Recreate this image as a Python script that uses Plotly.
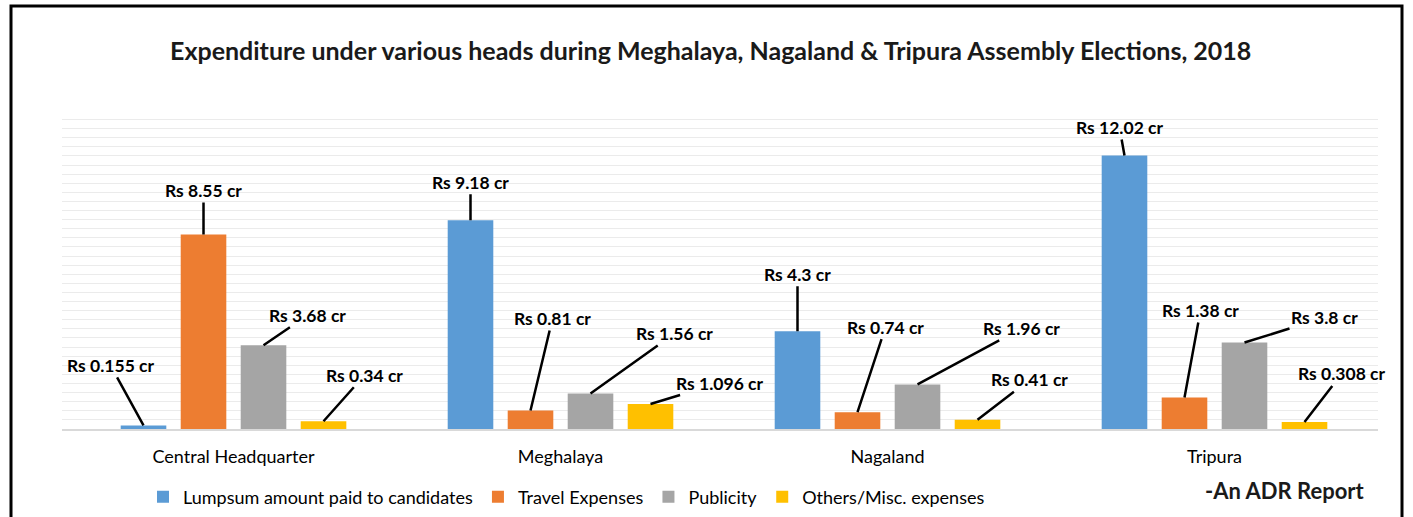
import plotly.graph_objects as go

categories = ["Central Headquarter", "Meghalaya", "Nagaland", "Tripura"]
series_names = ["Lumpsum amount paid to candidates", "Travel Expenses", "Publicity", "Others/Misc. expenses"]
lumpsum = [0.155, 9.18, 4.3, 12.02]
travel = [8.55, 0.81, 0.74, 1.38]
publicity = [3.68, 1.56, 1.96, 3.8]
others = [0.34, 1.096, 0.41, 0.308]
label_texts = [
    ["Rs 0.155 cr", "Rs 9.18 cr", "Rs 4.3 cr", "Rs 12.02 cr"],
    ["Rs 8.55 cr", "Rs 0.81 cr", "Rs 0.74 cr", "Rs 1.38 cr"],
    ["Rs 3.68 cr", "Rs 1.56 cr", "Rs 1.96 cr", "Rs 3.8 cr"],
    ["Rs 0.34 cr", "Rs 1.096 cr", "Rs 0.41 cr", "Rs 0.308 cr"],
]

# label offsets (pixels) from bar top: [series][category] -> (ax, ay)
label_offsets = [
    [(-33, -60), (0, -38), (0, -57), (-5, -28)],
    [(0, -44), (22, -92), (28, -85), (16, -87)],
    [(44, -30), (84, -60), (104, -56), (80, -25)],
    [(41, -46), (69, -21), (52, -40), (37, -48)],
]
colors = ["#5B9BD5", "#ED7D31", "#A5A5A5", "#FFC000"]

series_values = [lumpsum, travel, publicity, others]
FONT = "Lato"
W, H = 1413, 517
ML, MR, MT, MB = 62, 35, 110, 88
BARGAP, GROUPGAP = 0.266, 0.24
X_RANGE = [-0.5245, 3.5]

fig = go.Figure()
for name, vals, col in zip(series_names, series_values, colors):
    fig.add_trace(go.Bar(x=categories, y=vals, name=name, marker=dict(color=col, line=dict(width=0))))

n = len(series_values)
slot = (1 - BARGAP) / n
annotations = []
for si, vals in enumerate(series_values):
    for ci, v in enumerate(vals):
        ax, ay = label_offsets[si][ci]
        annotations.append(dict(
            x=ci + (si - (n - 1) / 2) * slot, y=v, xref="x", yref="y",
            text="<b>" + label_texts[si][ci] + "</b>",
            showarrow=True, arrowhead=0, arrowwidth=2.5, arrowcolor="black",
            ax=ax, ay=ay, font=dict(family=FONT, size=17.5, color="black"),
        ))

pw = W - ML - MR
ph = H - MT - MB
annotations.append(dict(
    text="<b>Expenditure under various heads during Meghalaya, Nagaland & Tripura Assembly Elections, 2018</b>",
    x=(710 - ML) / pw, y=(H - MB - 50) / ph, xref="paper", yref="paper",
    showarrow=False, xanchor="center", yanchor="middle",
    font=dict(family=FONT, size=25, color="#1a1a1a"),
))
annotations.append(dict(
    text="<b>-An ADR Report</b>", x=(1284 - ML) / pw, y=(H - MB - 490) / ph,
    xref="paper", yref="paper", showarrow=False, xanchor="center", yanchor="middle",
    font=dict(family=FONT, size=22, color="#1a1a1a"),
))

fig.update_layout(
    width=W, height=H, barmode="group", bargap=BARGAP, bargroupgap=GROUPGAP,
    margin=dict(l=ML, r=MR, t=MT, b=MB, autoexpand=False),
    paper_bgcolor="white", plot_bgcolor="white",
    font=dict(family=FONT, size=18, color="black"),
    annotations=annotations,
    showlegend=True,
    legend=dict(orientation="h", x=(143 - ML) / pw, y=(H - MB - 497) / ph,
                xanchor="left", yanchor="middle", font=dict(family=FONT, size=18, color="black"),
                itemwidth=30, tracegroupgap=0),
    shapes=[dict(type="rect", xref="paper", yref="paper",
                 x0=(11 - ML) / pw, x1=(1402 - ML) / pw,
                 y0=(H - MB - 530) / ph, y1=(H - MB - 6) / ph,
                 line=dict(color="black", width=3), fillcolor="rgba(0,0,0,0)", layer="above")],
)
fig.update_xaxes(range=X_RANGE, showline=True, linecolor="#D9D9D9", linewidth=1.5, ticks="outside", ticklen=11,
                 tickcolor="rgba(0,0,0,0)", showgrid=False, automargin=False,
                 tickfont=dict(family=FONT, size=18, color="black"))
fig.update_yaxes(range=[0, 14.02], tick0=0, dtick=0.4, showgrid=True, gridcolor="#EBEBEB", gridwidth=1,
                 showticklabels=False, zeroline=False, fixedrange=True, automargin=False)

fig.write_html("out.html", config={"displayModeBar": False},
               post_script="document.body.style.margin='0';document.body.style.overflow='hidden';")
